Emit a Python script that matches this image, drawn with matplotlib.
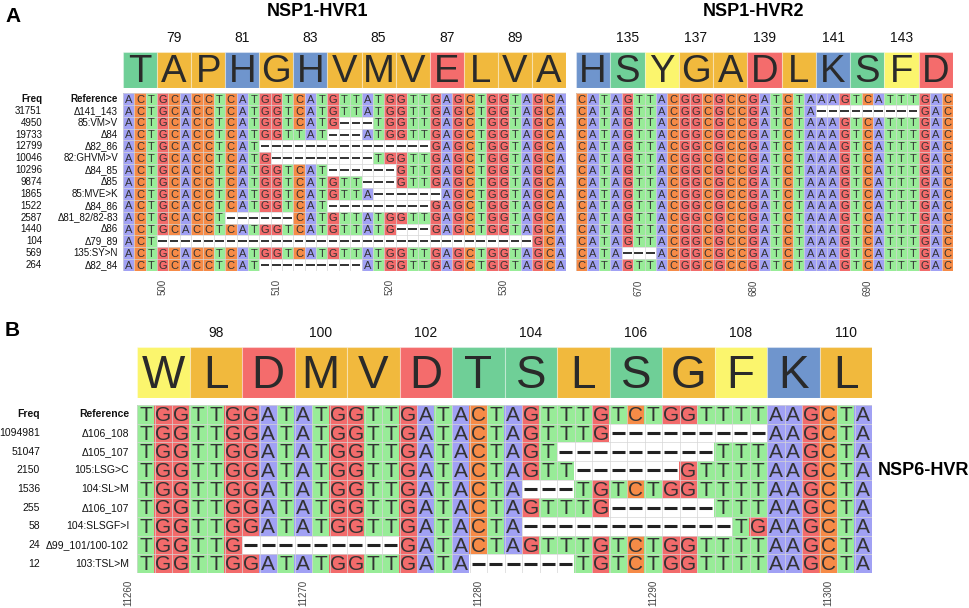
import numpy as np
import matplotlib.pyplot as plt
from matplotlib import transforms
from matplotlib.colors import to_rgb

plt.rcParams['font.family'] = ['Liberation Sans', 'DejaVu Sans']

W, H = 969, 608

# ---- data ----
hvr1_aa = "TAPHGHVMVELVA"        # NSP1 aa 78-90
hvr1_aa_start = 78
hvr1_aa_ticks = [79, 81, 83, 85, 87, 89]
hvr1_nt_start = 497
hvr1_nt_ticks = [500, 510, 520, 530]

hvr2_aa = "HSYGADLKSFD"          # NSP1 aa 134-144
hvr2_aa_start = 134
hvr2_aa_ticks = [135, 137, 139, 141, 143]
hvr2_nt_start = 665
hvr2_nt_ticks = [670, 680, 690]

freq_a = [31751, 4950, 19733, 12799, 10046, 10296, 9874, 1865, 1522, 2587, 1440, 104, 569, 264]
label_a = ["Δ141_143", "85:VM>V", "Δ84", "Δ82_86", "82:GHVM>V", "Δ84_85", "Δ85", "85:MVE>K",
           "Δ84_86", "Δ81_82/82-83", "Δ86", "Δ79_89", "135:SY>N", "Δ82_84"]

hvr1_seqs = [
    "ACTGCACCTCATGGTCATGTTATGGTTGAGCTGGTAGCA",  # Reference
    "ACTGCACCTCATGGTCATGTTATGGTTGAGCTGGTAGCA",
    "ACTGCACCTCATGGTCATG---TGGTTGAGCTGGTAGCA",
    "ACTGCACCTCATGGTTAT---ATGGTTGAGCTGGTAGCA",
    "ACTGCACCTCAT---------------GAGCTGGTAGCA",
    "ACTGCACCTCATG---------TGGTTGAGCTGGTAGCA",
    "ACTGCACCTCATGGTCAT------GTTGAGCTGGTAGCA",
    "ACTGCACCTCATGGTCATGTT---GTTGAGCTGGTAGCA",
    "ACTGCACCTCATGGTCATGTTA------AGCTGGTAGCA",
    "ACTGCACCTCATGGTCAT---------GAGCTGGTAGCA",
    "ACTGCACCT------CATGTTATGGTTGAGCTGGTAGCA",
    "ACTGCACCTCATGGTCATGTTATG---GAGCTGGTAGCA",
    "ACT---------------------------------GCA",
    "ACTGCACCTCATGGTCATGTTATGGTTGAGCTGGTAGCA",
    "ACTGCACCTCAT---------ATGGTTGAGCTGGTAGCA",
]

hvr2_seqs = [
    "CATAGTTACGGCGCCGATCTAAAGTCATTTGAC",  # Reference
    "CATAGTTACGGCGCCGATCTA---------GAC",
    "CATAGTTACGGCGCCGATCTAAAGTCATTTGAC",
    "CATAGTTACGGCGCCGATCTAAAGTCATTTGAC",
    "CATAGTTACGGCGCCGATCTAAAGTCATTTGAC",
    "CATAGTTACGGCGCCGATCTAAAGTCATTTGAC",
    "CATAGTTACGGCGCCGATCTAAAGTCATTTGAC",
    "CATAGTTACGGCGCCGATCTAAAGTCATTTGAC",
    "CATAGTTACGGCGCCGATCTAAAGTCATTTGAC",
    "CATAGTTACGGCGCCGATCTAAAGTCATTTGAC",
    "CATAGTTACGGCGCCGATCTAAAGTCATTTGAC",
    "CATAGTTACGGCGCCGATCTAAAGTCATTTGAC",
    "CATAGTTACGGCGCCGATCTAAAGTCATTTGAC",
    "CATA---ACGGCGCCGATCTAAAGTCATTTGAC",
    "CATAGTTACGGCGCCGATCTAAAGTCATTTGAC",
]

nsp6_aa = "WLDMVDTSLSGFKL"        # NSP6 aa 97-110
nsp6_aa_start = 97
nsp6_aa_ticks = [98, 100, 102, 104, 106, 108, 110]
nsp6_nt_start = 11261
nsp6_nt_ticks = [11260, 11270, 11280, 11290, 11300]

freq_b = [1094981, 51047, 2150, 1536, 255, 58, 24, 12]
label_b = ["Δ106_108", "Δ105_107", "105:LSG>C", "104:SL>M", "Δ106_107",
           "104:SLSGF>I", "Δ99_101/100-102", "103:TSL>M"]

nsp6_seqs = [
    "TGGTTGGATATGGTTGATACTAGTTTGTCTGGTTTTAAGCTA",  # Reference
    "TGGTTGGATATGGTTGATACTAGTTTG---------AAGCTA",
    "TGGTTGGATATGGTTGATACTAGT---------TTTAAGCTA",
    "TGGTTGGATATGGTTGATACTAGTT------GTTTTAAGCTA",
    "TGGTTGGATATGGTTGATACTA---TGTCTGGTTTTAAGCTA",
    "TGGTTGGATATGGTTGATACTAGTTTG------TTTAAGCTA",
    "TGGTTGGATATGGTTGATACTA------------TGAAGCTA",
    "TGGTTG---------GATACTAGTTTGTCTGGTTTTAAGCTA",
    "TGGTTGGATATGGTTGATA------TGTCTGGTTTTAAGCTA",
]

nt_colors = {'A': '#a1a1f4', 'C': '#f68b47', 'G': '#f26b6b', 'T': '#98ec98', '-': '#ffffff'}
aa_colors = {'A': '#f1b93d', 'P': '#f1b93d', 'G': '#f1b93d', 'V': '#f1b93d', 'M': '#f1b93d',
             'L': '#f1b93d', 'I': '#f1b93d',
             'T': '#6fcf97', 'S': '#6fcf97',
             'H': '#6f95cd', 'K': '#6f95cd',
             'D': '#f46c6c', 'E': '#f46c6c',
             'Y': '#fbf56d', 'F': '#fbf56d', 'W': '#fbf56d'}
txt = '#333333'

fig = plt.figure(figsize=(W / 100, H / 100), dpi=100)


def px_axes(x0, y0, x1, y1):
    ax = fig.add_axes([x0 / W, 1 - y1 / H, (x1 - x0) / W, (y1 - y0) / H])
    ax.patch.set_visible(False)
    for s in ax.spines.values():
        s.set_visible(False)
    return ax


def draw_header(box, aa, start, ticks, fs, num_fs, pad):
    ax = px_axes(*box)
    pos = np.arange(start, start + len(aa))
    ax.bar(pos, 1, width=1, bottom=0, color=[aa_colors[a] for a in aa],
           edgecolor=(1, 1, 1, 0.35), linewidth=0.8)
    for p, a in zip(pos, aa):
        ax.text(p, 0.44, a, ha='center', va='center', fontsize=fs, color='#2a2a2a')
    ax.set_xlim(start - 0.5, start + len(aa) - 0.5)
    ax.set_ylim(0, 1)
    ax.xaxis.tick_top()
    ax.set_xticks(ticks)
    ax.tick_params(axis='x', length=0, labelsize=num_fs, pad=pad, colors='#111111')
    ax.set_yticks([])
    return ax


def draw_alignment(box, seqs, start, ticks, fs, dash_lw, tick_fs, pad, extra_left=0):
    ax = px_axes(*box)
    n_rows, n_cols = len(seqs), len(seqs[0])
    x0 = start - 0.5
    img = np.array([[to_rgb(nt_colors[c]) for c in s] for s in seqs])
    ax.imshow(img, extent=(x0, x0 + n_cols, n_rows - 0.5, -0.5), aspect='auto',
              interpolation='nearest')
    ax.vlines(np.arange(n_cols + 1) + x0, -0.5, n_rows - 0.5, color='#d6d6d6', lw=0.5)
    ax.hlines(np.arange(n_rows + 1) - 0.5, x0, x0 + n_cols, color='#d6d6d6', lw=0.5)
    dx, dy = [], []
    for r, s in enumerate(seqs):
        for c, ch in enumerate(s):
            if ch == '-':
                dx.append(start + c)
                dy.append(r)
            else:
                ax.text(start + c, r + 0.06, ch, ha='center', va='center', fontsize=fs, color=txt)
    dx = np.array(dx)
    ax.hlines(dy, dx - 0.38, dx + 0.38, color='#222222', lw=dash_lw)
    ax.set_xlim(x0 - extra_left, x0 + n_cols)
    ax.set_ylim(n_rows - 0.5, -0.5)
    ax.set_xticks(ticks)
    ax.set_xticklabels([str(t) for t in ticks], rotation=90)
    ax.tick_params(axis='x', length=0, labelsize=tick_fs, pad=pad, colors='#444444')
    ax.set_yticks([])
    return ax


def draw_labels(ax, freqs, labels, x_freq, x_label, fs):
    tr = transforms.blended_transform_factory(fig.transFigure, ax.transData)
    ax.text(x_freq / W, 0, 'Freq', transform=tr, ha='right', va='center',
            fontsize=fs, fontweight='bold', color='#111111')
    ax.text(x_label / W, 0, 'Reference', transform=tr, ha='right', va='center',
            fontsize=fs, fontweight='bold', color='#111111')
    for i, (f, l) in enumerate(zip(freqs, labels), start=1):
        ax.text(x_freq / W, i, str(f), transform=tr, ha='right', va='center',
                fontsize=fs, color='#111111')
        ax.text(x_label / W, i, l, transform=tr, ha='right', va='center',
                fontsize=fs, color='#111111')


# ---- panel A ----
draw_header((123, 52, 566, 88), hvr1_aa, hvr1_aa_start, hvr1_aa_ticks, 27.5, 10, 5)
draw_header((576, 52, 953, 88), hvr2_aa, hvr2_aa_start, hvr2_aa_ticks, 27.5, 10, 5)
ax_a1 = draw_alignment((123, 93, 566, 271), hvr1_seqs, hvr1_nt_start, hvr1_nt_ticks, 8, 1.3, 7, 6)
draw_alignment((576, 93, 953, 271), hvr2_seqs, hvr2_nt_start, hvr2_nt_ticks, 8, 1.3, 7, 6)
draw_labels(ax_a1, freq_a, label_a, 42, 118, 7)

fig.text(5 / W, 1 - 16 / H, 'A', fontsize=15, fontweight='bold', va='center', ha='left')
fig.text(318 / W, 1 - 12 / H, 'NSP1-HVR1', fontsize=13, fontweight='bold', va='center', ha='center')
fig.text(753 / W, 1 - 12 / H, 'NSP1-HVR2', fontsize=13, fontweight='bold', va='center', ha='center')

# ---- panel B ----
draw_header((137, 347, 872, 398), nsp6_aa, nsp6_aa_start, nsp6_aa_ticks, 33, 10, 5)
ax_b = draw_alignment((119.5, 405, 872, 573), nsp6_seqs, nsp6_nt_start, nsp6_nt_ticks, 15, 2.2, 7, 5,
                      extra_left=1)
draw_labels(ax_b, freq_b, label_b, 40, 129, 7.5)

fig.text(5 / W, 1 - 331 / H, 'B', fontsize=15, fontweight='bold', va='center', ha='left')
tr_b = transforms.blended_transform_factory(fig.transFigure, ax_b.transData)
ax_b.text(878 / W, 3, 'NSP6-HVR', transform=tr_b, fontsize=13, fontweight='bold',
          va='center', ha='left')

fig.savefig('out.png', dpi=100)
